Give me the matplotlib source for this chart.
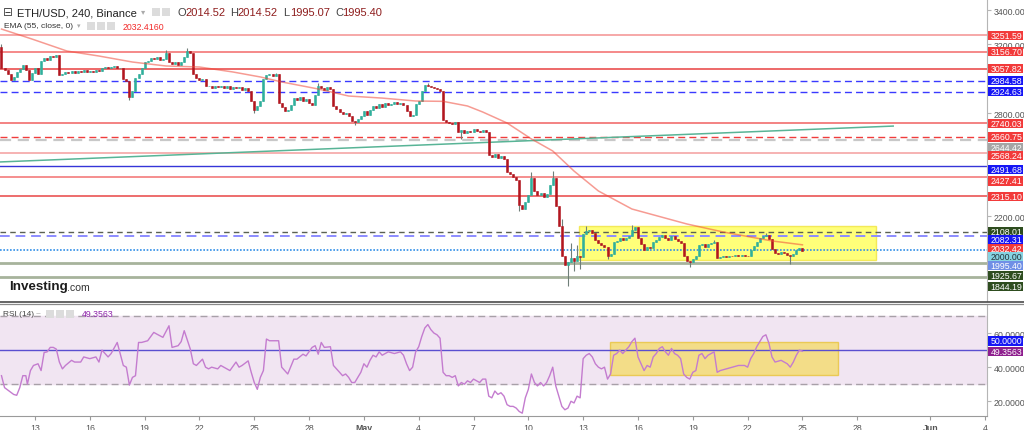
import matplotlib.pyplot as plt
from matplotlib.patches import Rectangle
from matplotlib.lines import Line2D
import numpy as np

plt.rcParams['font.family'] = ['Liberation Sans', 'DejaVu Sans']

# ---------------- data (ETH/USD 4h candles, Apr 11 - May 25) ----------------
first_open = 3185.0
closes = [
    3060, 3048, 3030, 2995, 3010, 3040,
    3055, 3080, 3050, 2995, 3035, 3060,
    3030, 3105, 3120, 3110, 3130, 3125,
    3140, 3020, 3030, 3040, 3035, 3045,
    3035, 3045, 3040, 3048, 3038, 3045,
    3040, 3050, 3045, 3060, 3070, 3062,
    3068, 3072, 3060, 3065, 3000, 2985,
    2895, 2930, 3005, 3030, 3060, 3095,
    3105, 3120, 3112, 3125, 3108, 3115,
    3150, 3100, 3085, 3095, 3080, 3100,
    3125, 3160, 3150, 3030, 3005, 2990,
    2998, 2955, 2960, 2945, 2955, 2950,
    2960, 2945, 2955, 2940, 2950, 2945,
    2950, 2935, 2945, 2930, 2870, 2815,
    2840, 2870, 3000, 3020, 3025, 3015,
    3030, 2860, 2835, 2810, 2820, 2845,
    2890, 2875, 2895, 2870, 2880, 2860,
    2845, 2905, 2955, 2945, 2935, 2950,
    2940, 2840, 2825, 2805, 2795, 2800,
    2780, 2755, 2750, 2765, 2780, 2810,
    2790, 2815, 2840, 2830, 2850, 2835,
    2860, 2845, 2855, 2862, 2850, 2858,
    2845, 2810, 2780, 2790, 2850, 2870,
    2930, 2965, 2960, 2950, 2945, 2940,
    2930, 2760, 2745, 2740, 2735, 2745,
    2690, 2700, 2685, 2695, 2690, 2705,
    2695, 2690, 2700, 2690, 2555, 2545,
    2560, 2540, 2550, 2530, 2455, 2445,
    2430, 2410, 2265, 2240, 2280, 2320,
    2420, 2345, 2320, 2335, 2310, 2330,
    2380, 2420, 2260, 2140, 1965, 1915,
    1930, 1955, 1940, 1965, 1960, 2095,
    2110, 2120, 2100, 2060, 2045, 2030,
    2020, 1970, 1980, 2050, 2055, 2070,
    2060, 2070, 2085, 2120, 2135, 2075,
    2040, 2005, 2020, 2015, 2050, 2060,
    2080, 2090, 2070, 2060, 2085, 2065,
    2055, 2045, 1965, 1940, 1930, 1950,
    1965, 2030, 2040, 2020, 2035, 2045,
    2050, 1955, 1962, 1968, 1960, 1970,
    1965, 1972, 1968, 1975, 1970, 1966,
    2005, 2025, 2050, 2070, 2085, 2090,
    2065, 2010, 1985, 1980, 1990, 1982,
    1975, 1965, 1980, 2005, 2014.52, 1995.40,
]
wick_highs = {0: 3200, 54: 3167, 61: 3180, 90: 3035, 104: 2972, 140: 2975,
              174: 2457, 181: 2460, 184: 2180, 187: 2045, 189: 2030, 192: 2142,
              207: 2146, 234: 2062, 251: 2100, 263: 2014.52}
wick_lows = {42: 2878, 83: 2800, 116: 2728, 151: 2650, 170: 2228, 186: 1793,
             188: 1880, 190: 1890, 199: 1948, 226: 1905, 259: 1922, 263: 1995.07}

ema_bars = [0, 10, 21.5, 32, 43, 54, 65, 76, 85, 92, 104, 114, 125, 136, 145,
            153, 158, 166, 174, 181, 188, 196, 207, 225, 237, 253, 263]
ema_vals = [3289, 3231, 3161, 3132, 3097, 3074, 3068, 3039, 3010, 2981, 2940,
            2899, 2887, 2870, 2868, 2841, 2806, 2742, 2649, 2579, 2462, 2346,
            2241, 2154, 2107, 2055, 2032.42]

rsi_bars = [0, 1, 4, 5, 6, 7, 8, 8.5, 9.5, 10.5, 12, 13, 14, 15, 16, 17, 18, 19,
            20, 21, 23, 24, 26, 27, 29, 31, 32, 33, 35, 36, 38, 40, 41, 42, 43,
            44, 45, 46, 48, 50, 51, 53, 55, 56, 58, 59, 60, 62, 63, 64, 66, 67,
            68, 69, 71, 72, 73, 75, 77, 78, 79, 81, 82, 83, 84, 85, 86, 87, 88,
            91, 92, 94, 96, 97, 99, 100, 102, 103, 104, 105, 106,
            108, 109, 110, 111, 112, 113, 114, 115, 116, 117, 118, 119, 120,
            121, 122, 123, 124, 125, 127, 129, 131, 132, 133, 134, 135, 136,
            137, 138, 139, 140, 141, 142, 143, 144, 145, 146, 147, 148, 149,
            150, 151, 152, 153, 154, 155, 156, 157, 158, 159, 160, 161, 162,
            163, 164, 165, 166, 167, 168, 169, 170, 171, 172, 173, 174, 175,
            176, 177, 178, 179, 180, 181, 182, 183, 184, 185, 186, 187, 188,
            189, 190, 191, 192, 193, 194, 195, 196, 197, 198, 199, 200, 201,
            202, 203, 204, 206, 207, 208, 209, 210, 211, 212, 213, 214, 215,
            216, 217, 218, 219, 220, 221, 222, 223, 224, 225, 226, 227, 228,
            229, 230, 231, 232, 233, 234, 235, 236, 238, 240, 242, 244, 245,
            246, 247, 248, 249, 250, 251, 252, 253, 254, 256, 258, 259, 260,
            261, 262, 263]
rsi_vals = [35, 28, 24, 23.5, 28, 35, 35, 30, 38, 41, 42, 38, 48.6, 49, 51.6,
            51.6, 50.6, 43, 39, 41, 44, 43, 43, 46, 45, 46, 43, 50, 46, 48,
            54.5, 41, 40, 29.5, 34, 35, 54.5, 54.5, 55.5, 60.4, 59.4, 57.5,
            64.3, 51.6, 52.6, 55, 61.4, 50.6, 42, 41, 44.7, 40, 39, 40, 39, 41,
            40, 38, 43, 40, 41, 43.7, 37, 31, 27, 34, 38, 56.5, 55.5, 55.5, 40,
            36, 44.7, 44.7, 47.6, 46.6, 51.6, 52.6, 47.6, 54.5, 51.6,
            52, 41, 39, 37, 35, 36, 34, 31, 31, 34, 37, 42, 40,
            44, 47, 46, 49, 47, 49, 48, 49, 47, 42, 38, 40, 49,
            52, 58, 63, 65, 62, 60, 59, 57, 37, 35, 35, 34, 35,
            29, 31, 30, 32, 31, 33, 32, 31, 33, 33, 23, 22, 26,
            24, 25, 23, 18, 17, 17, 16, 14, 13, 22, 27, 36, 31,
            29, 31, 29, 31, 35, 40, 29, 23, 17, 15, 16, 20, 19,
            23, 22, 45, 47, 48, 46, 42, 40, 39, 40, 33, 36, 47,
            48, 50, 48, 52, 55, 57, 46, 42, 38, 41, 40, 46, 48,
            51, 52, 49, 47, 51, 48, 47, 45, 36, 34, 33, 37, 38,
            47, 48, 45, 47, 48, 49, 37, 38, 39, 40, 41, 41, 40,
            45, 48, 52, 55, 58, 59, 54, 46, 43, 44, 42, 40, 43,
            47, 50, 49.3563]

level_prices = [3251.59, 3156.70, 3057.82, 2984.58, 2924.63, 2740.03, 2660.75,
                2644.42, 2568.24, 2491.68, 2427.41, 2315.10, 2108.01, 2082.31,
                2000.00, 1925.67, 1844.19]
ema_last = 2032.42
last_price = 1995.40

trend_bars = [-0.5, 292.8]
trend_prices = [2515, 2724]
box_bars = [189.6, 287.2]
box_prices = [1945, 2142]
rsi_box_bars = [199.8, 274.7]
rsi_box_vals = [35.3, 54.7]

tick_bars = [11, 29, 47, 65, 83, 101, 119, 137, 155, 173, 191, 209, 227, 245,
             263, 281, 305, 323]
tick_labels = ['13', '16', '19', '22', '25', '28', 'May', '4', '7', '10', '13',
               '16', '19', '22', '25', '28', 'Jun', '4']

# ---------------- styles ----------------
RED = '#f23a3a'
level_styles = [
    dict(color='#f59a9a', ls='-', lw=1.2),
    dict(color='#f26a6a', ls='-', lw=1.1),
    dict(color='#e84040', ls='-', lw=1.1),
    dict(color='#3a3aff', ls=(0, (5, 3)), lw=1.0),
    dict(color='#3a3aff', ls=(0, (5, 3)), lw=1.0),
    dict(color='#f06060', ls='-', lw=1.1),
    dict(color='#f03c3c', ls=(0, (5, 3)), lw=1.0),
    dict(color='#c8c8c8', ls=(0, (5, 3)), lw=1.6),
    dict(color='#f5a5a5', ls='-', lw=1.2),
    dict(color='#3535d8', ls='-', lw=1.0),
    dict(color='#f27070', ls='-', lw=1.1),
    dict(color='#e84545', ls='-', lw=1.1),
    dict(color='#5b6152', ls=(0, (4, 3)), lw=1.0),
    dict(color='#8c8cff', ls=(0, (5, 3)), lw=1.4),
    dict(color='#2f8fe8', ls=(0, (1, 1)), lw=1.2),
    dict(color='#a7b39c', ls='-', lw=2.0),
    dict(color='#a7b39c', ls='-', lw=2.0),
]

W, H = 1024, 431
PANEL_BOT = 302
RSI_TOP, RSI_BOT = 305, 417
AX_RIGHT = 987
P_TOP, P_BOT = 3464.1, 1705.2
R_TOP, R_BOT = 77.06, 11.35
XLIM = (-0.49, 323.6)

fig = plt.figure(figsize=(W / 100, H / 100), dpi=100)
fig.patch.set_facecolor('white')
ax = fig.add_axes([0, 1 - PANEL_BOT / H, AX_RIGHT / W, PANEL_BOT / H])
ax2 = fig.add_axes([0, 1 - RSI_BOT / H, AX_RIGHT / W, (RSI_BOT - RSI_TOP) / H])

for a in (ax, ax2):
    a.set_xlim(*XLIM)
    for s in ('top', 'left', 'bottom'):
        a.spines[s].set_visible(False)
    a.spines['right'].set_color('#b5b5b5')
    a.yaxis.tick_right()
    a.tick_params(axis='y', length=3, pad=2, labelsize=6.3, colors='#b5b5b5',
                  labelcolor='#555555')

# ---------------- price panel ----------------
ax.set_ylim(P_BOT, P_TOP)
ax.set_xticks([])
ax.set_yticks([2200, 2800, 3200, 3400])
ax.set_yticklabels(['%.2f' % v for v in [2200, 2800, 3200, 3400]])

ax.add_patch(Rectangle((box_bars[0], box_prices[0]), box_bars[1] - box_bars[0],
                       box_prices[1] - box_prices[0], fc='#ffff66', ec='#f2e64a',
                       lw=1, alpha=0.88, zorder=1))

for p, st in zip(level_prices, level_styles):
    ax.axhline(p, zorder=2, **st)

ax.plot(trend_bars, trend_prices, color='#58b496', lw=1.1, zorder=2)

c = np.array(closes, dtype=float)
o = np.r_[first_open, c[:-1]]
hi = np.maximum(o, c)
lo = np.minimum(o, c)
for k, v in wick_highs.items():
    hi[k] = v
for k, v in wick_lows.items():
    lo[k] = v
idx = np.arange(len(c))
up = c >= o
ax.vlines(idx, lo, hi, color='#6f7f79', lw=0.8, zorder=3)
body_h = np.maximum(np.abs(c - o), 3)
colors = np.where(up, '#2fb09c', '#b3161f')
ax.bar(idx, body_h, bottom=np.minimum(o, c), width=0.66, color=colors,
       edgecolor=colors, lw=0.4, zorder=4)

ax.plot(ema_bars, ema_vals, color='#f04a3a', lw=1.1, alpha=0.55, zorder=5)

# ---------------- RSI panel ----------------
ax2.set_ylim(R_BOT, R_TOP)
ax2.fill_between(XLIM, 30, 70, color='#f1e5f2', zorder=0)
ax2.axhline(70, color='#a8a0a8', ls=(0, (5, 3)), lw=1.0, zorder=1)
ax2.axhline(30, color='#a8a0a8', ls=(0, (5, 3)), lw=1.0, zorder=1)
ax2.add_patch(Rectangle((rsi_box_bars[0], rsi_box_vals[0]),
                        rsi_box_bars[1] - rsi_box_bars[0],
                        rsi_box_vals[1] - rsi_box_vals[0],
                        fc='#f4dc6e', ec='#e9c43c', lw=1, alpha=0.8, zorder=1))
ax2.axhline(50, color='#5a4fd0', lw=1.0, zorder=2)
ax2.plot(rsi_bars, rsi_vals, color='#c47ccf', lw=1.0, zorder=3)
ax2.set_yticks([20, 40, 60])
ax2.set_yticklabels(['%.4f' % v for v in [20, 40, 60]])
ax2.spines['bottom'].set_visible(True)
ax2.spines['bottom'].set_color('#9a9a9a')
ax2.set_xticks(tick_bars)
ax2.set_xticklabels(tick_labels)
ax2.tick_params(axis='x', length=3, pad=2, labelsize=6.3, colors='#9a9a9a',
                labelcolor='#555555')
for t in ax2.get_xticklabels():
    if t.get_text() in ('May', 'Jun'):
        t.set_fontweight('bold')


# ---------------- right-hand price labels ----------------
def fy(py):
    return 1 - py / H


def price_py(p):
    return (P_TOP - p) / (P_TOP - P_BOT) * PANEL_BOT


def rsi_py(v):
    return RSI_TOP + (R_TOP - v) / (R_TOP - R_BOT) * (RSI_BOT - RSI_TOP)


def label_box(py, txt, fc, tc='white'):
    fig.add_artist(Rectangle((988 / W, fy(py + 4.6)), 35 / W, 9.2 / H,
                             transform=fig.transFigure, fc=fc, ec='none',
                             zorder=5))
    fig.text(990.5 / W, fy(py), txt, color=tc, fontsize=6.3, va='center',
             ha='left', zorder=6)


GREEN_BOX = '#2e4d1f'
BLUE_BOX = '#1616f5'
label_colors = {3251.59: RED, 3156.70: RED, 3057.82: RED, 2984.58: BLUE_BOX,
                2924.63: BLUE_BOX, 2740.03: RED, 2660.75: RED, 2644.42: '#a5a5a5',
                2568.24: RED, 2491.68: BLUE_BOX, 2427.41: RED, 2315.10: RED,
                2108.01: GREEN_BOX, 2082.31: BLUE_BOX, 1925.67: GREEN_BOX,
                1844.19: GREEN_BOX}
# vertical shifts (px) where stacked labels push each other apart
label_nudge = {2984.58: -1, 2644.42: 8, 2568.24: 3, 2491.68: 3.5, 2427.41: 4,
               2082.31: 3.5, 1925.67: 12.5, 1844.19: 9}
for p in level_prices:
    if p == 2000.00:
        continue
    label_box(price_py(p) + label_nudge.get(p, 0), '%.2f' % p, label_colors[p])
label_box(price_py(ema_last) + 3.5, '%.2f' % ema_last, RED)
label_box(price_py(2000.00) + 6.5, '%.2f' % 2000.00, '#86d3e2', '#263238')
label_box(price_py(last_price) + 14.5, '%.2f' % last_price, '#6f8fe6')

label_box(rsi_py(50) - 9.2, '%.4f' % 50, BLUE_BOX)
label_box(rsi_py(rsi_vals[-1]), '%.4f' % rsi_vals[-1], '#8e1e8e')

# ---------------- panel separator ----------------
fig.add_artist(Line2D([0, 1], [fy(302.6)] * 2, color='#4a4a4a', lw=1.2))
fig.add_artist(Line2D([0, 1], [fy(304.6)] * 2, color='#8a8a8a', lw=0.9))


# ---------------- header texts ----------------
def grey_icons(x0, py, n, size=8):
    for i in range(n):
        fig.add_artist(Rectangle(((x0 + i * (size + 2)) / W, fy(py + size / 2)),
                                 size / W, size / H, transform=fig.transFigure,
                                 fc='#dcdcdc', ec='none'))


fig.text(3 / W, fy(13), '\u229f', fontsize=8.5, color='#444444', va='center')
fig.text(17 / W, fy(13), 'ETH/USD, 240, Binance', fontsize=8.0, color='#222222',
         va='center')
fig.text(141 / W, fy(13), '\u25be', fontsize=6, color='#aaaaaa', va='center')
grey_icons(152, 13, 2)
for x0, letter, val in [(178, 'O', '2014.52'), (230, 'H', '2014.52'),
                        (283, 'L', '1995.07'), (335, 'C', '1995.40')]:
    fig.text(x0 / W, fy(13), letter, fontsize=8.0, color='#444444', va='center')
    fig.text((x0 + 7) / W, fy(13), val, fontsize=8.0, color='#8e1d1d', va='center')

fig.text(4 / W, fy(27), 'EMA (55, close, 0)', fontsize=6.0, color='#333333',
         va='center')
fig.text(77 / W, fy(27), '\u25be', fontsize=5, color='#aaaaaa', va='center')
grey_icons(87, 27, 3)
fig.text(123 / W, fy(27), '2032.4160', fontsize=6.3, color='#f22a2a', va='center')

fig.text(3 / W, fy(315), 'RSI (14)', fontsize=6.0, color='#444444', va='center')
fig.text(36 / W, fy(315), '~', fontsize=6, color='#999999', va='center')
grey_icons(46, 315, 3)
fig.text(82 / W, fy(315), '49.3563', fontsize=6.3, color='#8e24aa', va='center')

fig.text(9 / W, fy(287), 'Investing', fontsize=9.6, fontweight='bold',
         color='#1c1c1c', va='center')
fig.text(67 / W, fy(288), '.com', fontsize=7.6, color='#333333', va='center')

fig.savefig('out.png', dpi=100, facecolor='white')
